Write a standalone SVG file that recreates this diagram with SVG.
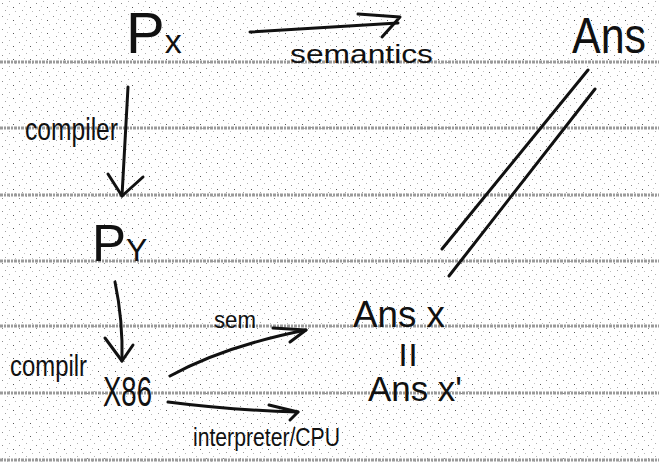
<svg xmlns="http://www.w3.org/2000/svg" width="659" height="462" viewBox="0 0 659 462">
  <defs>
    <pattern id="stipple" width="17" height="13" patternUnits="userSpaceOnUse">
      <rect width="17" height="13" fill="#ffffff"/>
      <rect x="2" y="3" width="1" height="1" fill="#8a8a8a"/>
      <rect x="9" y="1" width="1" height="1" fill="#b0b0b0"/>
      <rect x="13" y="7" width="1" height="1" fill="#555"/>
      <rect x="5" y="10" width="1" height="1" fill="#a0a0a0"/>
      <rect x="15" y="11" width="1" height="1" fill="#bbbbbb"/>
      <rect x="7" y="6" width="1" height="1" fill="#c4c4c4"/>
    </pattern>
    <style>
      .rule { stroke: #9a9a9a; stroke-width: 3; stroke-dasharray: 3 1 2 1; }
      .ink { fill: none; stroke: #111; stroke-width: 3; stroke-linecap: round; stroke-linejoin: round; }
      .t { font-family: "Liberation Sans", "DejaVu Sans", sans-serif; fill: #111; }
    </style>
  </defs>

  <rect width="659" height="462" fill="url(#stipple)"/>

  <g id="ruled-lines">
    <line class="rule" x1="0" y1="62" x2="659" y2="62"/>
    <line class="rule" x1="0" y1="128" x2="659" y2="128"/>
    <line class="rule" x1="0" y1="195" x2="659" y2="195"/>
    <line class="rule" x1="0" y1="261" x2="659" y2="261"/>
    <line class="rule" x1="0" y1="326" x2="659" y2="326"/>
    <line class="rule" x1="0" y1="393" x2="659" y2="393"/>
    <line class="rule" x1="0" y1="460" x2="659" y2="460"/>
  </g>

  <g id="node-px">
    <text class="t" x="126" y="53" font-size="58">P<tspan font-size="34">x</tspan></text>
  </g>
  <g id="node-ans">
    <text class="t" x="572" y="53" font-size="50" textLength="74" lengthAdjust="spacingAndGlyphs">Ans</text>
  </g>
  <g id="node-py">
    <text class="t" x="92" y="261" font-size="51">P<tspan font-size="32">Y</tspan></text>
  </g>
  <g id="node-x86">
    <text class="t" x="103" y="406" font-size="42" textLength="49" lengthAdjust="spacingAndGlyphs">X86</text>
  </g>
  <g id="node-ansx">
    <text class="t" x="353" y="327" font-size="37" textLength="92" lengthAdjust="spacingAndGlyphs">Ans x</text>
  </g>
  <g id="node-equal">
    <text class="t" x="398" y="361" font-size="24" textLength="20" lengthAdjust="spacingAndGlyphs">||</text>
  </g>
  <g id="node-ansx-prime">
    <text class="t" x="368" y="401" font-size="35" textLength="94" lengthAdjust="spacingAndGlyphs">Ans x'</text>
  </g>

  <g id="connectors">
    <path class="ink" d="M250,32 L398,23"/>
    <path class="ink" d="M358,14 L400,17 L382,37"/>
    <text class="t" x="290" y="63" font-size="25" textLength="143" lengthAdjust="spacingAndGlyphs">semantics</text>

    <path class="ink" d="M128,87 L122,196"/>
    <path class="ink" d="M108,174 L122,196 L143,177"/>
    <text class="t" x="25" y="140" font-size="32" textLength="93" lengthAdjust="spacingAndGlyphs">compiler</text>

    <path class="ink" d="M115,282 Q123,320 122,361"/>
    <path class="ink" d="M105,338 L122,361 L133,345"/>
    <text class="t" x="10" y="376" font-size="30" textLength="77" lengthAdjust="spacingAndGlyphs">compilr</text>

    <path class="ink" d="M170,376 Q225,346 306,330"/>
    <path class="ink" d="M273,328 L306,330 L290,342"/>
    <text class="t" x="214" y="328" font-size="24" textLength="42" lengthAdjust="spacingAndGlyphs">sem</text>

    <path class="ink" d="M168,402 Q230,410 298,412"/>
    <path class="ink" d="M269,405 L298,412 L290,420"/>
    <text class="t" x="193" y="446" font-size="25" textLength="147" lengthAdjust="spacingAndGlyphs">interpreter/CPU</text>

    <path class="ink" d="M588,70 L442,249"/>
    <path class="ink" d="M595,89 L449,276"/>
  </g>
</svg>
